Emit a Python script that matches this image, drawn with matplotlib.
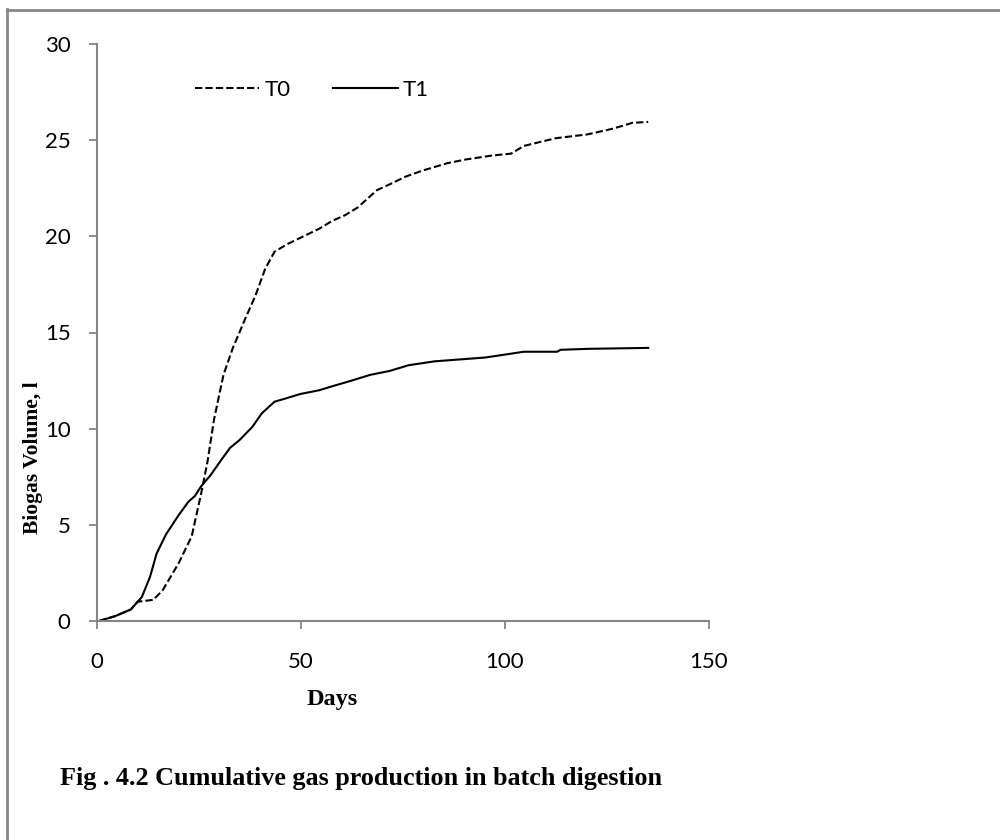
import matplotlib
matplotlib.use("Agg")
import matplotlib.pyplot as plt
from matplotlib.lines import Line2D

# ---- data ----
t0_days = [0.5, 4.4, 8.3, 9.9, 13.8, 16.1, 20.0, 23.2, 25.5, 27.1, 28.7, 31.0, 33.3,
           36.5, 38.8, 41.2, 43.5, 46.7, 50.6, 54.5, 57.6, 60.8, 63.9, 68.6, 71.7,
           75.6, 79.5, 85.8, 90.5, 96.8, 101.5, 104.6, 112.4, 120.2, 126.5, 131.2, 135.1]
t0_vol = [0.0, 0.25, 0.6, 1.0, 1.1, 1.6, 3.0, 4.4, 6.6, 8.3, 10.5, 12.8, 14.2,
          15.8, 16.9, 18.3, 19.2, 19.6, 20.0, 20.4, 20.8, 21.1, 21.5, 22.4, 22.7,
          23.1, 23.4, 23.8, 24.0, 24.2, 24.3, 24.7, 25.1, 25.3, 25.6, 25.9, 25.95]

t1_days = [0.5, 4.4, 8.3, 11.0, 13.0, 14.6, 16.9, 20.0, 22.4, 24.0, 25.5, 27.9, 30.2,
           32.6, 34.9, 38.1, 40.4, 43.5, 46.7, 49.8, 54.5, 57.6, 62.4, 67.0, 71.7,
           76.4, 82.7, 88.9, 95.2, 101.5, 104.6, 110.9, 112.8, 113.6, 120.2, 135.1]
t1_vol = [0.0, 0.25, 0.6, 1.25, 2.3, 3.5, 4.5, 5.5, 6.2, 6.5, 7.0, 7.6, 8.3,
          9.0, 9.4, 10.1, 10.8, 11.4, 11.6, 11.8, 12.0, 12.2, 12.5, 12.8, 13.0,
          13.3, 13.5, 13.6, 13.7, 13.9, 14.0, 14.0, 14.0, 14.1, 14.15, 14.2]

series_names = ["T0", "T1"]
x_ticks = [0, 50, 100, 150]
y_ticks = [0, 5, 10, 15, 20, 25, 30]

W, H = 1000, 840
fig = plt.figure(figsize=(W / 100, H / 100), dpi=100)
fig.patch.set_facecolor("white")

# outer frame (left and top edges visible)
frame_col = "#878787"
fig.add_artist(Line2D([7 / W, 7 / W], [0, 1 - 9 / H], transform=fig.transFigure,
                      color=frame_col, lw=2.0))
fig.add_artist(Line2D([7 / W, 1], [1 - 9.5 / H, 1 - 9.5 / H], transform=fig.transFigure,
                      color=frame_col, lw=2.0))

ax = fig.add_axes([97 / W, 1 - 621 / H, (709 - 97) / W, (621 - 44) / H])
ax.plot(t0_days, t0_vol, color="black", lw=1.5, linestyle=(0, (3.5, 1.5)),
        label=series_names[0])
ax.plot(t1_days, t1_vol, color="black", lw=1.5, linestyle="-", label=series_names[1])

ax.set_xlim(0, 150)
ax.set_ylim(0, 30)
ax.set_xticks(x_ticks)
ax.set_yticks(y_ticks)
tick_font = "Lato"
for lab in ax.get_xticklabels() + ax.get_yticklabels():
    lab.set_fontfamily(tick_font)
    lab.set_fontsize(16)
    lab.set_color("black")

for s in ["top", "right"]:
    ax.spines[s].set_visible(False)
for s in ["left", "bottom"]:
    ax.spines[s].set_color("#868686")
    ax.spines[s].set_linewidth(1.5)
ax.tick_params(axis="both", direction="out", length=6, width=1.3, color="#868686")
ax.tick_params(axis="x", pad=16)
ax.tick_params(axis="y", pad=13)

leg = ax.legend(loc="center", bbox_to_anchor=((312 - 97) / 612, (621 - 90) / 577),
                ncol=2, frameon=False, handlelength=2.9, handletextpad=0.25,
                columnspacing=1.9, prop={"family": tick_font, "size": 16})

fig.text(332 / W, 1 - 700 / H, "Days", ha="center", va="center",
         fontfamily="Liberation Serif", fontweight="bold", fontsize=17.5)
fig.text(33 / W, 1 - 458 / H, "Biogas Volume, l", ha="center", va="center",
         rotation=90, fontfamily="Liberation Serif", fontweight="bold", fontsize=15.5)
fig.text(60 / W, 1 - 778 / H, "Fig . 4.2 Cumulative gas production in batch digestion",
         ha="left", va="center", fontfamily="Liberation Serif", fontweight="bold",
         fontsize=18.8)

fig.savefig("out.png", dpi=100, facecolor="white")
